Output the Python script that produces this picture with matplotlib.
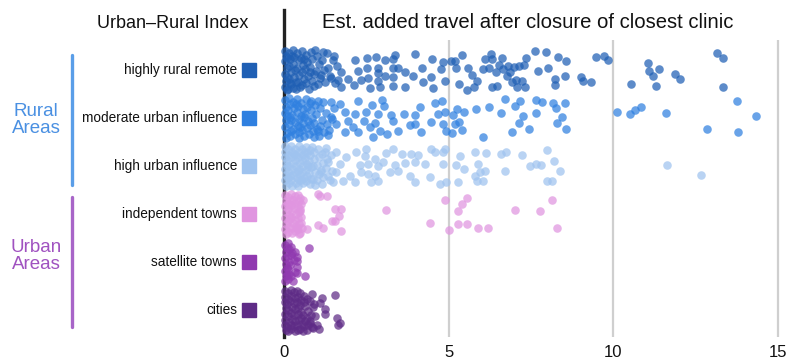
import matplotlib
matplotlib.use("Agg")
import matplotlib.pyplot as plt
import matplotlib.transforms as mtransforms
from matplotlib.lines import Line2D

plt.rcParams['font.family'] = ['Liberation Sans', 'DejaVu Sans']

categories = ["highly rural remote", "moderate urban influence", "high urban influence",
              "independent towns", "satellite towns", "cities"]
colors = ["#1f5fb4", "#2f80e0", "#9fc3ef", "#e095e0", "#9039b0", "#5e2b86"]
groups = ["Rural\nAreas", "Urban\nAreas"]
group_colors = ["#4a90e2", "#a052c0"]
x_ticks = [0, 5, 10, 15]
title_left = "Urban\u2013Rural Index"
title_right = "Est. added travel after closure of closest clinic"

# (added travel, vertical jitter within the row)
remote_pts = [
    (0.02,-0.40),(0.05,-0.30),(0.03,-0.18),(0.08,-0.05),(0.04,0.08),(0.06,0.22),(0.02,0.35),(0.10,0.42),
    (0.15,-0.35),(0.18,-0.22),(0.14,-0.08),(0.20,0.05),(0.16,0.18),(0.22,0.30),(0.12,0.40),(0.28,-0.42),
    (0.30,-0.28),(0.26,-0.12),(0.32,0.00),(0.29,0.14),(0.35,0.26),(0.27,0.38),(0.40,-0.36),(0.44,-0.20),
    (0.38,-0.04),(0.46,0.10),(0.42,0.24),(0.48,0.36),(0.55,-0.40),(0.52,-0.26),(0.58,-0.10),(0.54,0.04),
    (0.60,0.18),(0.56,0.32),(0.66,-0.32),(0.70,-0.16),(0.64,-0.02),(0.72,0.12),(0.68,0.28),(0.75,0.40),
    (0.82,-0.38),(0.86,-0.22),(0.80,-0.06),(0.90,0.08),(0.84,0.22),(0.92,0.34),(1.00,-0.30),(1.05,-0.12),
    (0.98,0.02),(1.08,0.16),(1.02,0.30),(1.15,-0.20),(1.20,0.00),(1.12,0.10),(1.25,0.26),(1.30,-0.35),
    (1.35,-0.05),(1.40,0.12),(1.52,-0.30),(1.60,-0.08),(1.55,0.28),(1.65,0.20),(0.08,-0.25),(0.24,-0.30),
    (0.36,0.40),(0.62,-0.22),(0.78,0.05),(0.95,-0.42),(0.10,0.15),(0.18,0.28),
    (1.18,-0.375),(1.48,-0.21),(1.73,0.04),(1.42,0.17),(1.73,0.35),(2.12,0.31),(2.15,-0.21),(2.24,0.02),
    (2.52,-0.25),(2.79,-0.27),(3.06,-0.21),(3.30,-0.23),(3.36,-0.31),(2.52,-0.04),(2.85,-0.04),(3.30,-0.04),
    (3.45,-0.04),(3.67,0.04),(3.97,-0.33),(4.18,-0.04),(4.48,-0.23),(4.82,-0.17),(5.06,-0.19),(2.55,0.17),
    (2.85,0.23),(3.06,0.125),(3.30,0.15),(3.30,0.33),(2.61,0.375),(2.91,0.35),(3.67,0.35),(4.45,0.15),
    (4.52,0.375),(4.76,-0.02),(1.94,0.19),(2.33,0.21),(2.85,0.06),(3.91,0.125),(4.21,0.25),(4.88,0.23),
    (5.42,-0.31),(5.18,-0.19),(5.21,-0.04),(6.09,-0.23),(6.30,-0.33),(6.33,-0.23),(6.61,-0.25),(6.24,-0.04),
    (6.52,-0.10),(6.64,-0.02),(6.79,-0.08),(7.00,-0.06),(7.15,-0.08),(7.30,-0.10),(7.36,-0.25),(7.61,-0.40),
    (7.97,-0.375),(8.33,-0.27),(8.58,-0.19),(7.73,0.02),(8.03,-0.04),(5.58,-0.04),(5.70,0.10),(5.85,0.23),
    (5.33,0.29),(5.55,0.42),(5.76,0.35),(6.33,0.35),(6.48,0.33),(6.76,0.125),(6.91,0.25),(7.09,0.35),
    (7.24,0.23),(7.33,0.35),(7.06,0.21),(6.85,0.04),(8.24,0.19),(8.24,0.31),(8.55,0.125),(9.03,0.15),
    (9.33,0.25),(9.48,-0.27),(9.73,-0.29),(9.85,-0.21),(6.45,0.04),(6.03,-0.02),(9.09,0.23),
    (11.06,-0.15),(11.09,0.02),(11.21,0.125),(11.39,-0.02),(11.88,0.08),(12.03,0.19),(10.55,0.29),
    (11.30,0.33),(13.15,-0.35),(13.33,-0.25),(13.33,0.35),
]

moderate_pts = [
    (0.03,-0.38),(0.06,-0.24),(0.02,-0.10),(0.07,0.04),(0.04,0.18),(0.09,0.32),(0.05,0.42),(0.14,-0.42),
    (0.17,-0.30),(0.13,-0.16),(0.19,-0.02),(0.15,0.12),(0.21,0.26),(0.18,0.38),(0.26,-0.34),(0.30,-0.20),
    (0.25,-0.06),(0.33,0.08),(0.28,0.22),(0.34,0.34),(0.40,-0.40),(0.43,-0.26),(0.38,-0.12),(0.45,0.02),
    (0.41,0.16),(0.47,0.30),(0.44,0.42),(0.53,-0.32),(0.57,-0.18),(0.51,-0.04),(0.59,0.10),(0.55,0.24),
    (0.61,0.38),(0.67,-0.40),(0.70,-0.24),(0.65,-0.08),(0.73,0.06),(0.69,0.20),(0.76,0.34),(0.82,-0.16),
    (0.86,0.00),(0.80,0.14),(0.88,0.28),(0.94,-0.28),(0.98,-0.08),(0.92,0.10),(1.00,0.22),(1.06,0.38),
    (1.10,-0.20),(1.14,0.04),(1.08,0.16),(1.20,0.30),(1.26,-0.10),(1.30,0.12),(1.36,0.24),(0.10,-0.05),
    (0.22,0.05),(0.36,-0.30),(0.48,0.18),(0.62,-0.02),(0.78,-0.32),(0.90,0.40),(1.04,-0.36),(1.45,0.02),
    (1.52,-0.20),
    (0.82,-0.35),(1.18,-0.33),(1.42,-0.33),(1.70,-0.29),(2.24,-0.35),(2.67,-0.27),(2.97,-0.375),(3.03,-0.25),
    (4.12,-0.23),(4.58,-0.31),(4.79,-0.35),(1.85,-0.125),(2.15,-0.08),(2.48,-0.125),(2.85,-0.08),(3.24,-0.06),
    (3.64,-0.08),(3.97,-0.06),(4.67,-0.08),(4.88,-0.125),(1.42,-0.02),(1.58,0.125),(2.42,0.06),(2.76,0.10),
    (3.30,0.06),(2.61,0.19),(3.82,0.15),(3.97,0.125),(4.45,0.08),(1.85,0.29),(2.24,0.29),(2.91,0.27),
    (3.45,0.27),(4.15,0.29),(1.33,0.35),(1.03,0.27),(2.70,0.40),(3.12,0.33),(4.82,0.125),(4.91,0.27),
    (1.94,0.06),(2.09,0.19),
    (5.24,-0.19),(5.12,-0.06),(5.48,-0.125),(5.82,-0.19),(6.24,-0.23),(6.70,-0.40),(7.03,-0.25),(7.18,-0.35),
    (7.64,-0.375),(7.85,-0.33),(8.18,-0.31),(8.52,-0.31),(8.27,-0.21),(6.58,-0.10),(7.27,-0.04),(7.15,0.10),
    (7.64,-0.10),(8.45,-0.02),(8.30,0.10),(7.45,0.23),(8.58,0.23),(6.91,0.29),(6.03,0.40),(5.42,0.25),
    (5.09,0.31),(5.33,0.08),(5.18,0.125),
    (10.12,-0.125),(10.52,-0.08),(10.67,-0.17),(10.85,-0.23),(11.61,-0.10),(12.85,0.23),(13.76,-0.35),
    (14.33,-0.04),(13.79,0.29),
]

high_urban_pts = [
    (0.02,-0.42),(0.04,-0.30),(0.03,-0.18),(0.05,-0.06),(0.02,0.06),(0.06,0.18),(0.03,0.30),(0.05,0.42),
    (0.12,-0.36),(0.14,-0.24),(0.10,-0.12),(0.15,0.00),(0.11,0.12),(0.13,0.24),(0.16,0.36),
    (0.22,-0.42),(0.25,-0.30),(0.21,-0.18),(0.26,-0.06),(0.23,0.06),(0.27,0.18),(0.22,0.30),(0.24,0.42),
    (0.34,-0.36),(0.36,-0.24),(0.32,-0.12),(0.37,0.00),(0.33,0.12),(0.38,0.24),(0.35,0.36),
    (0.45,-0.42),(0.47,-0.30),(0.43,-0.18),(0.48,-0.06),(0.44,0.06),(0.49,0.18),(0.46,0.30),(0.43,0.42),
    (0.56,-0.36),(0.58,-0.24),(0.54,-0.12),(0.59,0.00),(0.55,0.12),(0.60,0.24),(0.57,0.36),
    (0.67,-0.40),(0.69,-0.28),(0.65,-0.16),(0.70,-0.04),(0.66,0.08),(0.71,0.20),(0.68,0.32),
    (0.78,-0.34),(0.80,-0.22),(0.76,-0.10),(0.82,0.02),(0.77,0.14),(0.83,0.26),(0.79,0.38),
    (0.90,-0.30),(0.92,-0.14),(0.88,0.00),(0.94,0.12),(0.89,0.28),(0.95,0.40),
    (1.02,-0.36),(1.05,-0.18),(1.00,-0.02),(1.06,0.16),(1.01,0.30),
    (1.14,-0.26),(1.17,-0.06),(1.12,0.08),(1.18,0.22),(1.15,0.38),
    (1.26,-0.38),(1.30,-0.14),(1.28,0.04),(1.34,0.20),(1.42,-0.22),(1.45,0.10),(1.40,0.30),(0.08,0.00),
    (0.19,0.20),(0.30,-0.26),(0.41,0.10),(0.52,0.30),(0.63,-0.30),(0.74,0.00),(0.86,-0.40),
    (2.18,-0.29),(2.48,-0.35),(2.45,-0.21),(3.09,-0.27),(3.30,-0.35),(3.58,-0.25),(3.85,-0.25),(4.06,-0.23),
    (4.45,-0.35),(4.58,-0.29),(4.82,-0.29),(4.88,-0.35),(2.30,-0.02),(2.55,-0.04),(2.76,-0.15),(2.85,0.00),
    (3.00,-0.08),(3.36,-0.02),(3.67,-0.06),(3.97,-0.08),(4.27,-0.04),(4.82,-0.04),(2.00,0.21),(2.33,0.125),
    (2.55,0.17),(2.76,0.21),(2.85,0.31),(2.64,0.33),(3.21,0.125),(3.45,0.10),(3.82,0.21),(3.97,0.33),
    (4.42,0.23),(4.73,0.375),(4.91,0.33),(2.15,0.33),(1.79,0.31),(1.58,0.125),(1.70,-0.04),(1.88,-0.19),
    (1.58,-0.29),(1.48,0.33),(1.24,-0.29),(1.33,-0.08),(1.12,0.125),
    (5.36,-0.21),(5.79,-0.29),(6.15,-0.27),(6.58,-0.25),(6.73,-0.29),(7.24,-0.23),(7.48,0.00),(7.64,-0.04),
    (5.21,-0.02),(5.48,0.06),(5.88,-0.04),(5.94,0.125),(6.09,0.10),(5.79,0.21),(6.70,0.10),(5.27,0.33),
    (5.85,0.31),(6.03,0.31),(8.00,-0.33),(8.21,-0.10),(7.82,-0.02),(8.39,0.10),(8.00,0.31),(8.15,0.31),
    (11.64,-0.02),(12.67,0.19),
]

independent_pts = [
    (0.02,-0.40),(0.05,-0.28),(0.03,-0.16),(0.06,-0.04),(0.02,0.08),(0.05,0.20),(0.03,0.32),(0.06,0.42),
    (0.12,-0.36),(0.15,-0.22),(0.11,-0.10),(0.14,0.02),(0.12,0.14),(0.16,0.26),(0.13,0.38),
    (0.22,-0.42),(0.24,-0.30),(0.21,-0.18),(0.25,-0.06),(0.22,0.06),(0.26,0.18),(0.23,0.30),(0.25,0.40),
    (0.32,-0.38),(0.34,-0.24),(0.31,-0.12),(0.35,0.00),(0.33,0.12),(0.36,0.24),(0.32,0.36),
    (0.42,-0.40),(0.44,-0.28),(0.41,-0.16),(0.45,-0.04),(0.43,0.08),(0.46,0.20),(0.42,0.32),(0.45,0.42),
    (0.50,-0.34),(0.52,-0.20),(0.49,-0.06),(0.53,0.06),(0.51,0.18),(0.54,0.30),(0.50,0.40),
    (0.08,-0.20),(0.18,0.10),(0.28,-0.30),(0.38,0.30),(0.48,-0.10),
    (1.03,-0.42),(1.30,-0.375),(1.09,-0.375),(0.58,-0.29),(1.55,-0.10),(1.73,-0.10),(1.67,0.04),(1.45,0.15),
    (1.55,0.15),(1.03,0.23),(1.18,0.29),(0.70,0.31),(1.73,0.35),(3.09,-0.08),(4.42,0.19),(4.88,-0.29),
    (5.00,0.33),(5.30,-0.06),(5.42,-0.21),(5.55,-0.33),(5.27,0.21),(5.55,0.21),(5.88,0.29),(6.21,0.29),
    (7.03,-0.08),(7.79,-0.06),(8.15,-0.29),(8.30,0.29),
]

satellite_pts = [
    (0.02,-0.35),(0.06,-0.22),(0.03,-0.08),(0.05,0.05),(0.02,0.18),(0.06,0.30),(0.04,0.40),
    (0.12,-0.40),(0.15,-0.28),(0.11,-0.12),(0.14,0.00),(0.10,0.12),(0.16,0.24),(0.13,0.36),
    (0.22,-0.32),(0.25,-0.18),(0.30,-0.05),(0.21,0.30),(0.26,0.40),
    (0.34,-0.22),(0.38,-0.02),(0.32,0.20),(0.40,0.10),(0.09,-0.30),(0.19,0.06),(0.08,0.26),
    (0.76,-0.29),(0.39,-0.10),(0.39,0.23),(0.64,0.29),(0.21,-0.15),(0.12,0.15),
]

cities_pts = [
    (0.02,-0.40),(0.04,-0.28),(0.03,-0.16),(0.05,-0.04),(0.02,0.08),(0.04,0.20),(0.03,0.32),(0.05,0.42),
    (0.11,-0.36),(0.13,-0.24),(0.10,-0.12),(0.12,0.00),(0.11,0.12),(0.14,0.24),(0.10,0.36),(0.13,0.44),
    (0.20,-0.42),(0.22,-0.30),(0.19,-0.18),(0.23,-0.06),(0.21,0.06),(0.24,0.18),(0.20,0.30),(0.22,0.40),
    (0.30,-0.38),(0.32,-0.26),(0.29,-0.14),(0.33,-0.02),(0.31,0.10),(0.34,0.22),(0.30,0.34),(0.32,0.43),
    (0.40,-0.40),(0.42,-0.28),(0.39,-0.16),(0.43,-0.04),(0.41,0.08),(0.44,0.20),(0.40,0.32),(0.42,0.42),
    (0.50,-0.36),(0.52,-0.22),(0.49,-0.10),(0.53,0.04),(0.51,0.16),(0.54,0.28),(0.50,0.40),
    (0.60,-0.30),(0.62,-0.16),(0.59,0.10),(0.63,0.22),(0.61,0.34),(0.58,0.43),
    (0.70,-0.24),(0.72,0.02),(0.69,0.16),(0.73,0.30),(0.71,0.42),
    (0.80,-0.20),(0.82,0.10),(0.78,0.22),(0.84,0.36),
    (0.95,0.12),(1.00,0.30),(0.92,-0.12),(1.05,0.40),
    (1.55,-0.31),(1.15,-0.25),(0.85,-0.33),(1.09,-0.15),(1.24,-0.02),(0.88,-0.06),(1.24,0.08),(1.61,0.17),
    (1.70,0.27),(1.64,0.31),(0.79,0.27),(0.88,0.375),(0.64,-0.08),
]

all_pts = [remote_pts, moderate_pts, high_urban_pts, independent_pts, satellite_pts, cities_pts]

W, H = 790, 361
fig = plt.figure(figsize=(W / 100, H / 100), dpi=100)
ax = fig.add_axes([272.5 / W, (H - 337) / H, (787.7 - 272.5) / W, 297 / H])
ax.set_xlim(-0.35, 15.3)
ax.set_ylim(5.56, -0.625)

for i, (pts, c) in enumerate(zip(all_pts, colors)):
    xs = [p[0] for p in pts]
    ys = [i + p[1] for p in pts]
    ax.scatter(xs, ys, s=38, color=c, alpha=0.72, linewidths=0, zorder=3)

for t in x_ticks[1:]:
    ax.axvline(t, color="#cfcfcf", lw=1.6, zorder=1)
ax.axvline(0, ymin=0, ymax=(337 - 10) / 297, color="#222222", lw=2.4, zorder=2, clip_on=False)

for s in ax.spines.values():
    s.set_visible(False)
ax.set_xticks(x_ticks)
ax.set_xticklabels([str(t) for t in x_ticks], fontsize=12, color="#111111")
ax.tick_params(axis="x", length=0, pad=6)
ax.set_yticks([])

# row labels and colour keys
trans = mtransforms.blended_transform_factory(fig.transFigure, ax.transData)
for i, (cat, c) in enumerate(zip(categories, colors)):
    ax.text(237 / W, i, cat, transform=trans, ha="right", va="center", fontsize=9.8, color="#111111")
    ax.add_line(Line2D([248.5 / W], [i], transform=trans, marker="s", markersize=10.5,
                       markerfacecolor=c, markeredgecolor=c, linestyle="none", clip_on=False))

# group brackets
fig.add_artist(Line2D([72 / W, 72 / W], [(H - 55) / H, (H - 185) / H], color="#5a9ee8", lw=2.4,
                      solid_capstyle="round"))
fig.add_artist(Line2D([72 / W, 72 / W], [(H - 197) / H, (H - 327) / H], color="#a865c8", lw=2.4,
                      solid_capstyle="round"))
fig.text(36 / W, (H - 120) / H, groups[0], ha="center", va="center", fontsize=13.5,
         color=group_colors[0], linespacing=0.95)
fig.text(36 / W, (H - 256) / H, groups[1], ha="center", va="center", fontsize=13.5,
         color=group_colors[1], linespacing=0.95)

fig.text(173 / W, (H - 23) / H, title_left, ha="center", va="center", fontsize=13, color="#111111")
fig.text(528 / W, (H - 23) / H, title_right, ha="center", va="center", fontsize=14.6, color="#111111")

fig.savefig("out.png", dpi=100, facecolor="white")
